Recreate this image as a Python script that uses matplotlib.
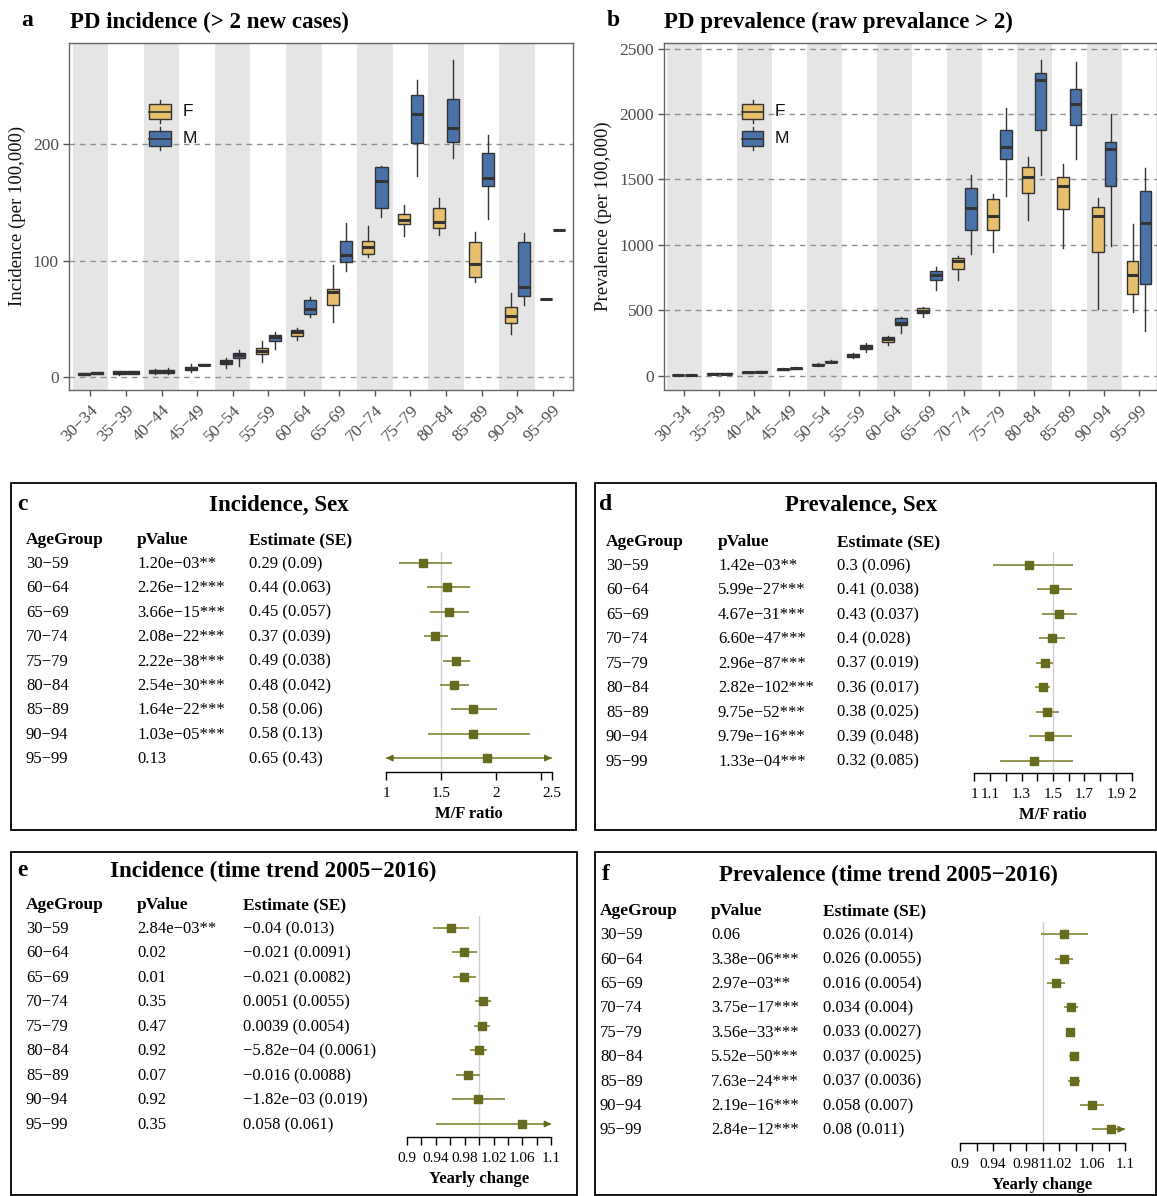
import numpy as np
import matplotlib
matplotlib.use("Agg")
import matplotlib.pyplot as plt
from matplotlib.patches import Rectangle
from matplotlib.lines import Line2D
from matplotlib.transforms import blended_transform_factory

W, H = 1157, 1196
plt.rcParams["font.family"] = ["Liberation Serif", "DejaVu Serif"]

# ---------------- data ----------------
age_groups = ["30−34", "35−39", "40−44", "45−49", "50−54", "55−59", "60−64",
              "65−69", "70−74", "75−79", "80−84", "85−89", "90−94", "95−99"]

# panel a: incidence per 100,000 (box stats)
inc_f_med = [2.7, 3.5, 5.0, 7.4, 13, 22.6, 39, 73, 111.6, 135, 133, 97, 52, 67]
inc_f_q1 = [1.8, 2.2, 3.6, 6.0, 11, 20, 35.5, 62, 106, 131.6, 128, 86, 46.6, 67]
inc_f_q3 = [3.5, 4.8, 6.4, 9.0, 15, 25, 40.6, 76, 116.5, 140, 145, 115.6, 60, 67]
inc_f_lo = [1.5, 1.7, 2.3, 4.0, 8, 13, 32, 47, 103, 121, 122, 82, 37, 67]
inc_f_hi = [3.8, 5.4, 7.0, 11.0, 16, 31, 42, 96, 130, 148, 153.6, 124.5, 72, 67]

inc_m_med = [3.6, 4.0, 4.8, 10.6, 19, 34, 58.7, 105, 168.5, 226, 213.5, 171, 77.5, 126]
inc_m_q1 = [3.0, 2.8, 3.6, 10.2, 16, 31, 54, 99, 145, 201, 202, 164, 69.5, 126]
inc_m_q3 = [4.3, 4.9, 6.2, 11.0, 21, 36, 66, 117, 180, 242, 239, 192.6, 116, 126]
inc_m_lo = [2.8, 2.6, 2.3, 10.2, 9.4, 24, 51.5, 91, 137, 173, 188, 136, 61.5, 126]
inc_m_hi = [4.4, 5.2, 7.4, 11.0, 23.5, 39, 69, 132, 181, 255, 272, 208, 124, 126]

# panel b: prevalence per 100,000 (box stats)
prev_f_med = [5, 13, 23, 48, 82, 153, 278, 492, 877, 1222, 1518, 1446, 1217, 770]
prev_f_q1 = [3, 10, 19, 44, 77, 143, 260, 477, 816, 1110, 1398, 1273, 941, 625]
prev_f_q3 = [7, 16, 27, 52, 88, 163, 291, 513, 900, 1347, 1594, 1520, 1291, 878]
prev_f_lo = [2, 8, 16, 40, 72, 133, 237, 449, 727, 946, 1186, 972, 508, 485]
prev_f_hi = [8, 18, 30, 55, 92, 173, 301, 523, 916, 1385, 1673, 1617, 1357, 1161]

prev_m_med = [5, 15, 28, 56, 107, 217, 405, 765, 1278, 1747, 2263, 2074, 1735, 1166]
prev_m_q1 = [3, 12, 23, 51, 101, 199, 388, 732, 1115, 1658, 1880, 1916, 1452, 696]
prev_m_q3 = [7, 18, 33, 61, 113, 232, 436, 796, 1431, 1875, 2314, 2194, 1788, 1413]
prev_m_lo = [2, 10, 20, 48, 98, 176, 327, 656, 931, 1370, 1536, 1653, 992, 337]
prev_m_hi = [8, 20, 36, 64, 116, 247, 451, 832, 1531, 2046, 2416, 2395, 1997, 1587]

# forest tables
table_groups = ["30−59", "60−64", "65−69", "70−74", "75−79", "80−84", "85−89", "90−94", "95−99"]

c_pval = ["1.20e−03**", "2.26e−12***", "3.66e−15***", "2.08e−22***", "2.22e−38***",
          "2.54e−30***", "1.64e−22***", "1.03e−05***", "0.13"]
c_est = [0.29, 0.44, 0.45, 0.37, 0.49, 0.48, 0.58, 0.58, 0.65]
c_se = [0.09, 0.063, 0.057, 0.039, 0.038, 0.042, 0.06, 0.13, 0.43]
c_est_text = ["0.29 (0.09)", "0.44 (0.063)", "0.45 (0.057)", "0.37 (0.039)", "0.49 (0.038)",
              "0.48 (0.042)", "0.58 (0.06)", "0.58 (0.13)", "0.65 (0.43)"]

d_pval = ["1.42e−03**", "5.99e−27***", "4.67e−31***", "6.60e−47***", "2.96e−87***",
          "2.82e−102***", "9.75e−52***", "9.79e−16***", "1.33e−04***"]
d_est = [0.3, 0.41, 0.43, 0.4, 0.37, 0.36, 0.38, 0.39, 0.32]
d_se = [0.096, 0.038, 0.037, 0.028, 0.019, 0.017, 0.025, 0.048, 0.085]
d_est_text = ["0.3 (0.096)", "0.41 (0.038)", "0.43 (0.037)", "0.4 (0.028)", "0.37 (0.019)",
              "0.36 (0.017)", "0.38 (0.025)", "0.39 (0.048)", "0.32 (0.085)"]

e_pval = ["2.84e−03**", "0.02", "0.01", "0.35", "0.47", "0.92", "0.07", "0.92", "0.35"]
e_est = [-0.04, -0.021, -0.021, 0.0051, 0.0039, -5.82e-04, -0.016, -1.82e-03, 0.058]
e_se = [0.013, 0.0091, 0.0082, 0.0055, 0.0054, 0.0061, 0.0088, 0.019, 0.061]
e_est_text = ["−0.04 (0.013)", "−0.021 (0.0091)", "−0.021 (0.0082)", "0.0051 (0.0055)",
              "0.0039 (0.0054)", "−5.82e−04 (0.0061)", "−0.016 (0.0088)",
              "−1.82e−03 (0.019)", "0.058 (0.061)"]

f_pval = ["0.06", "3.38e−06***", "2.97e−03**", "3.75e−17***", "3.56e−33***",
          "5.52e−50***", "7.63e−24***", "2.19e−16***", "2.84e−12***"]
f_est = [0.026, 0.026, 0.016, 0.034, 0.033, 0.037, 0.037, 0.058, 0.08]
f_se = [0.014, 0.0055, 0.0054, 0.004, 0.0027, 0.0025, 0.0036, 0.007, 0.011]
f_est_text = ["0.026 (0.014)", "0.026 (0.0055)", "0.016 (0.0054)", "0.034 (0.004)",
              "0.033 (0.0027)", "0.037 (0.0025)", "0.037 (0.0036)", "0.058 (0.007)",
              "0.08 (0.011)"]

F_COL = "#E6C06C"
M_COL = "#4A72A8"
EDGE = "#333333"
OLIVE = "#676B1E"
OLIVE_LIGHT = "#8A8E45"


def add_axes_px(fig, left, top, right, bottom):
    return fig.add_axes([left / W, 1 - bottom / H, (right - left) / W, (bottom - top) / H])


def fig_text(fig, x, y, s, **kw):
    fig.text(x / W, 1 - y / H, s, **kw)


def box_stats(med, q1, q3, lo, hi):
    return [dict(med=a, q1=b, q3=c, whislo=d, whishi=e, fliers=[])
            for a, b, c, d, e in zip(med, q1, q3, lo, hi)]


def legend_glyph(ax, x0, x1, y0, y1, color, label):
    ax.add_patch(Rectangle((x0, y0), x1 - x0, y1 - y0, transform=ax.transAxes,
                           facecolor=color, edgecolor=EDGE, lw=1.0, zorder=5))
    xm = (x0 + x1) / 2
    ym = (y0 + y1) / 2
    ax.add_line(Line2D([x0, x1], [ym, ym], transform=ax.transAxes, color=EDGE, lw=1.2, zorder=6))
    ax.add_line(Line2D([xm, xm], [y1, y1 + 0.011], transform=ax.transAxes, color=EDGE, lw=1.0, zorder=5))
    ax.add_line(Line2D([xm, xm], [y0 - 0.011, y0], transform=ax.transAxes, color=EDGE, lw=1.0, zorder=5))
    ax.text(x1 + 0.022, ym, label, transform=ax.transAxes, ha="left", va="center",
            fontsize=12.5, family="Liberation Sans", color="#111111")


def box_panel(ax, f_stats, m_stats, ylim, yticks, ylabel, xlim, ylabel_x):
    pos = np.arange(1, len(age_groups) + 1)
    for i in pos:
        if i % 2 == 1:
            ax.axvspan(i - 0.5, i + 0.5, color="#E5E5E5", lw=0, zorder=0)
    for yt in yticks:
        ax.axhline(yt, color="#8F8F8F", ls=(0, (4, 3.5)), lw=1.0, zorder=1)
    for stats, off, col in [(f_stats, -0.185, F_COL), (m_stats, 0.185, M_COL)]:
        ax.bxp(stats, positions=pos + off, widths=0.34, patch_artist=True,
               showcaps=False, showfliers=False, manage_ticks=False,
               boxprops=dict(facecolor=col, edgecolor=EDGE, linewidth=1.0),
               medianprops=dict(color=EDGE, linewidth=2.2, solid_capstyle="butt"),
               whiskerprops=dict(color=EDGE, linewidth=1.0), zorder=3)
    ax.set_xlim(*xlim)
    ax.set_ylim(*ylim)
    ax.set_xticks(pos)
    ax.set_xticklabels(age_groups, rotation=45, ha="right", rotation_mode="anchor")
    ax.set_yticks(yticks)
    ax.set_yticklabels([str(v) for v in yticks])
    ax.tick_params(colors="#555555", labelcolor="#4D4D4D", labelsize=12.5, length=4, width=1)
    ax.tick_params(axis="x", pad=5)
    for s in ax.spines.values():
        s.set_color("#666666")
        s.set_linewidth(1.0)
    ax.set_ylabel(ylabel, fontsize=13.5, color="#111111")
    ax.yaxis.set_label_coords(ylabel_x, 0.5)
    legend_glyph(ax, 0.158, 0.202, 0.781, 0.825, F_COL, "F")
    legend_glyph(ax, 0.158, 0.202, 0.703, 0.746, M_COL, "M")


def forest_panel(fig, rect, ylim, xlim, xticks, xticklabels, ref, est, se, pval,
                 est_text, col_x, xlabel):
    ax = add_axes_px(fig, *rect)
    rows = np.arange(1, len(table_groups) + 1)
    est = np.asarray(est)
    se = np.asarray(se)
    pt = np.exp(est)
    lo = np.exp(est - 1.96 * se)
    hi = np.exp(est + 1.96 * se)
    ax.axvline(ref, color="#CFCFCF", lw=1.0, zorder=0)
    lo_c = np.clip(lo, xlim[0], xlim[1])
    hi_c = np.clip(hi, xlim[0], xlim[1])
    ax.hlines(rows, lo_c, hi_c, color=OLIVE_LIGHT, lw=1.3, zorder=2)
    span = xlim[1] - xlim[0]
    for r, a, b in zip(rows, lo, hi):
        if b > xlim[1]:
            ax.annotate("", xy=(xlim[1], r), xytext=(xlim[1] - 0.04 * span, r),
                        arrowprops=dict(arrowstyle="-|>", color=OLIVE, lw=1.2,
                                        mutation_scale=9, shrinkA=0, shrinkB=0))
        if a < xlim[0]:
            ax.annotate("", xy=(xlim[0], r), xytext=(xlim[0] + 0.04 * span, r),
                        arrowprops=dict(arrowstyle="-|>", color=OLIVE, lw=1.2,
                                        mutation_scale=9, shrinkA=0, shrinkB=0))
    ax.plot(pt, rows, "s", color=OLIVE, ms=5.5, zorder=3)
    ax.set_xlim(*xlim)
    ax.set_ylim(*ylim)
    ax.set_yticks([])
    ax.set_xticks(xticks)
    ax.set_xticklabels(xticklabels)
    for s in ["top", "right", "left"]:
        ax.spines[s].set_visible(False)
    ax.spines["bottom"].set_linewidth(1.0)
    ax.tick_params(axis="x", length=6, width=1, labelsize=11, pad=5)
    ax.set_xlabel(xlabel, fontsize=12, fontweight="bold", labelpad=4)
    ax.patch.set_alpha(0)

    trans = blended_transform_factory(fig.transFigure, ax.transData)
    headers = ["AgeGroup", "pValue", "Estimate (SE)"]
    for cx, hd in zip(col_x, headers):
        ax.text(cx / W, 0.06, hd, transform=trans, ha="left", va="center",
                fontsize=12.5, fontweight="bold", clip_on=False)
    for r, g, p, t in zip(rows, table_groups, pval, est_text):
        for cx, s in zip(col_x, [g, p, t]):
            ax.text(cx / W, r + 0.04, s, transform=trans, ha="left", va="center",
                    fontsize=12, clip_on=False)
    return ax


fig = plt.figure(figsize=(W / 100, H / 100), dpi=100)

# ---- panel a
ax_a = add_axes_px(fig, 69.3, 43.3, 573.3, 389.5)
box_panel(ax_a,
          box_stats(inc_f_med, inc_f_q1, inc_f_q3, inc_f_lo, inc_f_hi),
          box_stats(inc_m_med, inc_m_q1, inc_m_q3, inc_m_lo, inc_m_hi),
          (-10.7, 286.5), [0, 100, 200], "Incidence (per 100,000)", (0.404, 14.58), -0.086)
fig_text(fig, 27, 20, "a", fontsize=17, fontweight="bold", ha="center", va="center")
fig_text(fig, 70, 22, "PD incidence (> 2 new cases)", fontsize=16.5, fontweight="bold",
         ha="left", va="center")

# ---- panel b
ax_b = add_axes_px(fig, 664, 43.3, 1156.5, 389.5)
box_panel(ax_b,
          box_stats(prev_f_med, prev_f_q1, prev_f_q3, prev_f_lo, prev_f_hi),
          box_stats(prev_m_med, prev_m_q1, prev_m_q3, prev_m_lo, prev_m_hi),
          (-107, 2540), [0, 500, 1000, 1500, 2000, 2500], "Prevalence (per 100,000)",
          (0.42, 14.5), -0.105)
fig_text(fig, 613, 20, "b", fontsize=17, fontweight="bold", ha="center", va="center")
fig_text(fig, 664, 22, "PD prevalence (raw prevalance > 2)", fontsize=16.5, fontweight="bold",
         ha="left", va="center")

# ---- frames for c-f
for (x0, y0, x1, y1) in [(11, 483, 576, 830), (595, 483, 1156, 830),
                         (11, 852, 577, 1195), (595, 852, 1156, 1195)]:
    fig.add_artist(Rectangle((x0 / W, 1 - y1 / H), (x1 - x0) / W, (y1 - y0) / H,
                             transform=fig.transFigure, fill=False, ec="black", lw=1.3))

# ---- panel c
forest_panel(fig, (386, 552, 551.7, 772), (9.57, 0.55), (1, 2.5),
             [1, 1.5, 2, 2.4, 2.5], ["1", "1.5", "2", "", "2.5"], 1.5,
             c_est, c_se, c_pval, c_est_text, [26, 137, 249], "M/F ratio")
fig_text(fig, 22, 505, "c", fontsize=17, fontweight="bold", ha="center", va="center")
fig_text(fig, 279, 505, "Incidence, Sex", fontsize=16.5, fontweight="bold", ha="center", va="center")

# ---- panel d
d_ticks = [1, 1.1, 1.2, 1.3, 1.4, 1.5, 1.6, 1.7, 1.8, 1.9, 2]
d_labels = ["1", "1.1", "", "1.3", "", "1.5", "", "1.7", "", "1.9", "2"]
forest_panel(fig, (974.3, 552, 1131.7, 773), (9.5, 0.47), (1, 2),
             d_ticks, d_labels, 1.5,
             d_est, d_se, d_pval, d_est_text, [606, 718, 837], "M/F ratio")
fig_text(fig, 606, 505, "d", fontsize=17, fontweight="bold", ha="center", va="center")
fig_text(fig, 861, 505, "Prevalence, Sex", fontsize=16.5, fontweight="bold", ha="center", va="center")

# ---- panel e
yc_ticks = [0.9, 0.92, 0.94, 0.96, 0.98, 1.0, 1.02, 1.04, 1.06, 1.08, 1.1]
e_labels = ["0.9", "", "0.94", "", "0.98", "", "1.02", "", "1.06", "", "1.1"]
forest_panel(fig, (407, 916, 551.3, 1136.7), (9.52, 0.51), (0.9, 1.1),
             yc_ticks, e_labels, 1.0,
             e_est, e_se, e_pval, e_est_text, [26, 137, 243], "Yearly change")
fig_text(fig, 22, 871, "e", fontsize=17, fontweight="bold", ha="center", va="center")
fig_text(fig, 273, 871, "Incidence (time trend 2005−2016)", fontsize=16.5, fontweight="bold",
         ha="center", va="center")

# ---- panel f
f_labels = ["0.9", "", "0.94", "", "0.98", "1", "1.02", "", "1.06", "", "1.1"]
forest_panel(fig, (960, 921.7, 1125, 1142.7), (9.55, 0.48), (0.9, 1.1),
             yc_ticks, f_labels, 1.0,
             f_est, f_se, f_pval, f_est_text, [600, 711, 823], "Yearly change")
fig_text(fig, 606, 874, "f", fontsize=17, fontweight="bold", ha="center", va="center")
fig_text(fig, 888, 875, "Prevalence (time trend 2005−2016)", fontsize=16.5, fontweight="bold",
         ha="center", va="center")

fig.savefig("out.png", dpi=100)
plt.close(fig)
